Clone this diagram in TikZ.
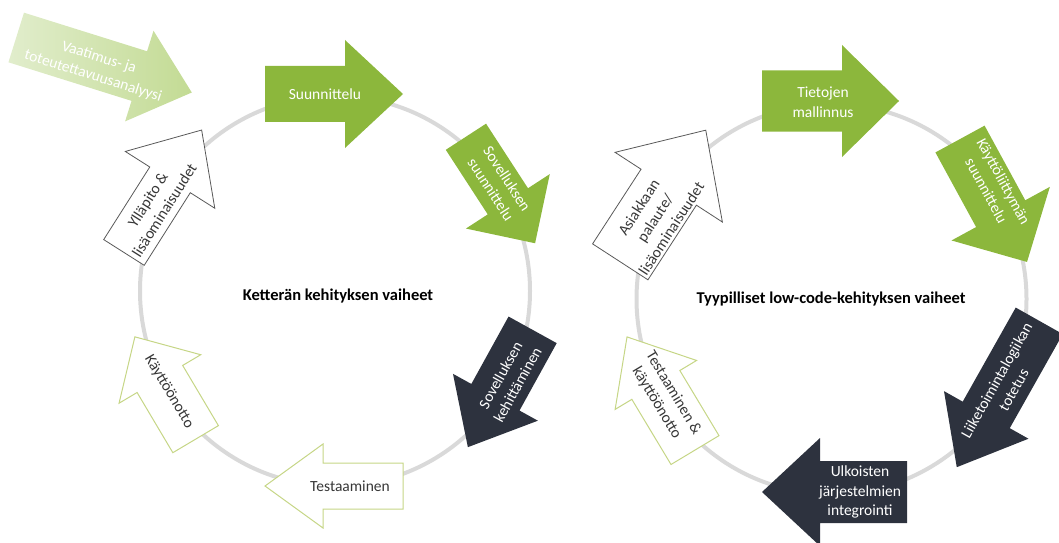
\documentclass[tikz,border=0pt]{standalone}
\usepackage{fontspec}
\setmainfont{Carlito}
\definecolor{agreen}{RGB}{140,183,60}
\definecolor{adark}{RGB}{45,50,62}
\definecolor{aline}{RGB}{198,214,134}
\definecolor{agray}{RGB}{217,217,217}
\definecolor{apale}{RGB}{195,219,148}
\definecolor{apaler}{RGB}{225,237,204}
\definecolor{atext}{RGB}{55,55,55}
\tikzset{
  greenarrow/.style={fill=agreen},
  darkarrow/.style={fill=adark},
  palearrow/.style={fill=white, draw=aline, line width=1pt},
  outlinearrow/.style={fill=white, draw=black!65, line width=0.8pt},
  fadedarrow/.style={left color=apaler, right color=apale},
  lbl/.style={font=\fontsize{15.5}{19.5}\selectfont, align=center, inner sep=0pt},
  wlbl/.style={lbl, text=white},
  dlbl/.style={lbl, text=atext},
  titlelbl/.style={font=\bfseries\fontsize{16.5}{18}\selectfont, inner sep=0pt},
  ring/.style={draw=agray, line width=4pt},
}
% #1 centre, #2 direction, #3 total length, #4 body width, #5 head length, #6 head width, #7 style
\newcommand\barrow[7]{\path[#7,shift={#1},rotate=#2]
  (-#3/2,-#4/2) -- ({#3/2-#5},-#4/2) -- ({#3/2-#5},-#6/2) -- (#3/2,0)
  -- ({#3/2-#5},#6/2) -- ({#3/2-#5},#4/2) -- (-#3/2,#4/2) -- cycle;}
\begin{document}
\begin{tikzpicture}[x=1pt,y=1pt]
\useasboundingbox (0,0) rectangle (1059,542);
\clip (0,0) rectangle (1059,542);
% rings
\draw[ring] (335,542-291) circle (195);
\draw[ring] (831.5,542-299) circle (195);
% titles
\node[titlelbl] (t1) at (338,542-296) {Ketterän kehityksen vaiheet};
\node[titlelbl] (t2) at (831,542-299) {Tyypilliset low-code-kehityksen vaiheet};

% ---- left cycle ----
\barrow{(104,542-65)}{-17.4}{184}{52}{55}{95}{fadedarrow}
\node[wlbl, rotate=-17.4] (vaat) at (96,542-67) {Vaatimus- ja\\toteutettavuusanalyysi};

\barrow{(334,542-94)}{0}{138}{56}{58}{108}{greenarrow}
\node[wlbl] (suun) at (325,542-94) {Suunnittelu};

\barrow{(500.5,542-190)}{-57}{127}{48}{50}{100}{greenarrow}
\node[wlbl, rotate=-57] (sosu) at (499,542-184) {Sovelluksen\\suunnittelu};

\barrow{(500.25,542-388.5)}{-118.9}{134}{55}{57}{97}{darkarrow}
\node[wlbl, rotate=61.1] (soke) at (509,542-380) {Sovelluksen\\kehittäminen};

\barrow{(334,542-486)}{180}{138}{46}{58}{84}{palearrow}
\node[dlbl] (test) at (350,542-486) {Testaaminen};

\barrow{(165.25,542-388)}{120.7}{119}{53}{49}{95}{palearrow}
\node[dlbl, rotate=-59.3] (kayt) at (169,542-392) {Käyttöönotto};

\barrow{(162.8,542-191.25)}{57.6}{145}{48}{59}{106}{outlinearrow}
\node[dlbl, rotate=57.6] (yll) at (156,542-205) {Ylläpito \&\\lisäominaisuudet};

% ---- right cycle ----
\barrow{(830.5,542-101)}{0}{137}{61}{57}{112}{greenarrow}
\node[wlbl] (tiet) at (823,542-102) {Tietojen\\mallinnus};

\barrow{(993.5,542-200.5)}{-61.4}{140}{56}{55}{112}{greenarrow}
\node[wlbl, rotate=-61.4] (kali) at (995,542-186) {Käyttöliittymän\\suunnittelu};

\barrow{(998,542-394)}{-119.4}{168}{54}{60}{97}{darkarrow}
\node[wlbl, rotate=60.6] (liik) at (1005,542-385) {Liiketoimintalogiikan\\totetus};

\barrow{(834.5,542-492)}{180}{145}{62}{58}{108}{darkarrow}
\node[wlbl] (ulko) at (860,542-492) {Ulkoisten\\järjestelmien\\integrointi};

\barrow{(661,542-393.5)}{121}{132}{56}{56}{95}{palearrow}
\node[dlbl, rotate=-59] (teka) at (665,542-398) {Testaaminen \&\\käyttöönotto};

\barrow{(663,542-196)}{57}{157}{66}{68}{128}{outlinearrow}
\node[dlbl, rotate=57] (asia) at (655,542-218) {Asiakkaan\\palaute/\\lisäominaisuudet};
\end{tikzpicture}
\end{document}
